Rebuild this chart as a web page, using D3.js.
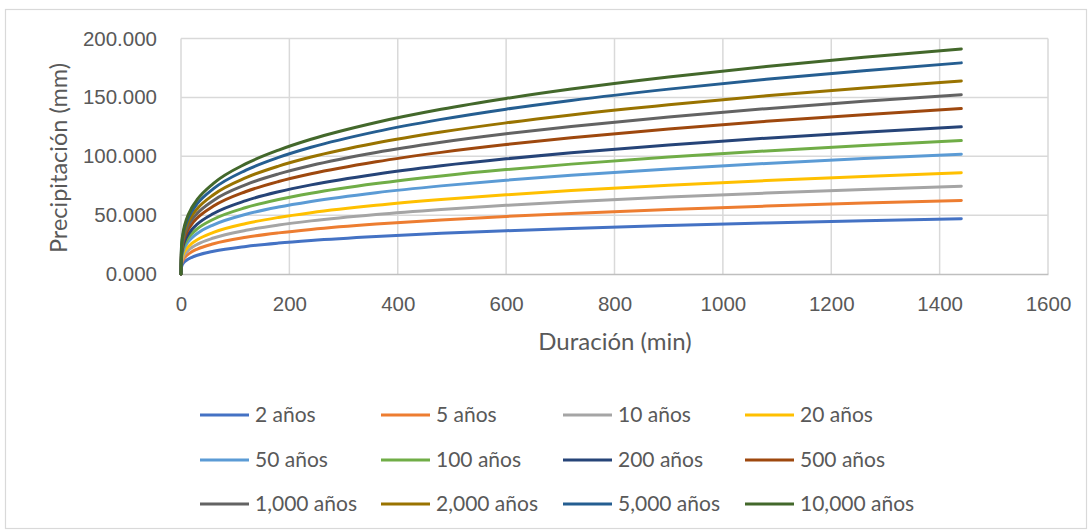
<!DOCTYPE html>
<html>
<head>
<meta charset="utf-8">
<script src="https://cdn.jsdelivr.net/npm/d3@7"></script>
<style>
  html, body { margin: 0; padding: 0; background: #fff; }
  svg { display: block; font-family: Lato, "Open Sans", sans-serif; }
</style>
</head>
<body>
<svg id="chart" width="1091" height="532"></svg>
<script>
// Duration (min) at which each depth is given
const durations = [0, 1, 5, 10, 20, 30, 60, 120, 180, 240, 360, 480, 600, 720, 900, 1080, 1260, 1440];

// Precipitation depth (mm) per return period
const p2     = [0, 6.13, 9.63, 11.69, 14.19, 15.90, 19.30, 23.44, 26.26, 28.46, 31.88, 34.55, 36.78, 38.71, 41.20, 43.36, 45.28, 47.00];
const p5     = [0, 8.16, 12.80, 15.54, 18.87, 21.14, 25.67, 31.17, 34.92, 37.84, 42.39, 45.95, 48.91, 51.48, 54.79, 57.66, 60.21, 62.50];
const p10    = [0, 9.72, 15.26, 18.53, 22.49, 25.20, 30.60, 37.15, 41.62, 45.11, 50.53, 54.77, 58.30, 61.36, 65.31, 68.73, 71.77, 74.50];
const p20    = [0, 11.22, 17.61, 21.39, 25.96, 29.09, 35.32, 42.89, 48.05, 52.07, 58.33, 63.23, 67.30, 70.83, 75.40, 79.34, 82.84, 86.00];
const p50    = [0, 13.28, 20.85, 25.32, 30.73, 34.44, 41.81, 50.77, 56.88, 61.64, 69.05, 74.84, 79.67, 83.84, 89.25, 93.92, 98.06, 101.80];
const p100   = [0, 14.79, 23.20, 28.18, 34.21, 38.33, 46.53, 56.50, 63.30, 68.60, 76.85, 83.30, 88.67, 93.31, 99.33, 104.53, 109.14, 113.30];
const p200   = [0, 16.31, 25.60, 31.09, 37.74, 42.29, 51.34, 62.34, 69.84, 75.69, 84.79, 91.90, 97.83, 102.95, 109.59, 115.33, 120.41, 125.00];
const p500   = [0, 18.34, 28.77, 34.94, 42.42, 47.53, 57.70, 70.07, 78.50, 85.07, 95.30, 103.30, 109.96, 115.72, 123.18, 129.63, 135.34, 140.50];
const p1000  = [0, 19.86, 31.17, 37.85, 45.95, 51.49, 62.51, 75.90, 85.03, 92.16, 103.24, 111.90, 119.11, 125.35, 133.43, 140.42, 146.61, 152.20];
const p2000  = [0, 21.40, 33.59, 40.79, 49.51, 55.48, 67.35, 81.79, 91.63, 99.30, 111.24, 120.57, 128.35, 135.07, 143.78, 151.31, 157.98, 164.00];
const p5000  = [0, 22.90, 36.00, 43.80, 53.20, 59.70, 72.50, 88.20, 99.00, 107.60, 120.90, 131.30, 140.00, 147.40, 157.00, 165.30, 172.70, 179.30];
const p10000 = [0, 24.10, 38.00, 46.30, 56.40, 63.30, 77.00, 93.70, 105.20, 114.40, 128.70, 139.90, 149.10, 157.10, 167.40, 176.20, 184.00, 191.10];

const seriesNames = ["2 años", "5 años", "10 años", "20 años", "50 años", "100 años",
                     "200 años", "500 años", "1,000 años", "2,000 años", "5,000 años", "10,000 años"];
const seriesValues = [p2, p5, p10, p20, p50, p100, p200, p500, p1000, p2000, p5000, p10000];
const seriesColors = ["#4472C4", "#ED7D31", "#A5A5A5", "#FFC000", "#5B9BD5", "#70AD47",
                      "#264478", "#9E480E", "#636363", "#997300", "#255E91", "#43682B"];

const xTicks = [0, 200, 400, 600, 800, 1000, 1200, 1400, 1600];
const yTicks = [0, 50, 100, 150, 200];

const svg = d3.select("#chart");
const textColor = "#595959";
const gridColor = "#d9d9d9";

// outer chart frame
svg.append("rect")
  .attr("x", 5.5).attr("y", 9.5).attr("width", 1081).attr("height", 519)
  .attr("fill", "#fff").attr("stroke", gridColor).attr("stroke-width", 1.2);

const plot = { left: 181, right: 1048, top: 38.5, bottom: 274 };

const x = d3.scaleLinear().domain([0, 1600]).range([plot.left, plot.right]);
const y = d3.scaleLinear().domain([0, 200]).range([plot.bottom, plot.top]);

// gridlines
const grid = svg.append("g");
grid.selectAll("line.h").data(yTicks.filter(d => d > 0)).join("line")
  .attr("x1", plot.left).attr("x2", plot.right)
  .attr("y1", d => y(d)).attr("y2", d => y(d))
  .attr("stroke", gridColor).attr("stroke-width", 1.5);
grid.selectAll("line.v").data(xTicks).join("line")
  .attr("y1", plot.top).attr("y2", plot.bottom)
  .attr("x1", d => x(d)).attr("x2", d => x(d))
  .attr("stroke", gridColor).attr("stroke-width", 1.5);

// x axis
const xAxis = svg.append("g")
  .attr("transform", `translate(0,${plot.bottom})`)
  .call(d3.axisBottom(x).tickValues(xTicks).tickSize(0).tickPadding(22).tickFormat(d3.format("d")));
xAxis.select(".domain").attr("stroke", "#bfbfbf").attr("stroke-width", 1.5);
xAxis.selectAll("text").attr("fill", textColor).style("font-size", "20.5px");

// y axis
const yAxis = svg.append("g")
  .attr("transform", `translate(${plot.left},0)`)
  .call(d3.axisLeft(y).tickValues(yTicks).tickSize(0).tickPadding(24).tickFormat(d3.format(".3f")));
yAxis.select(".domain").remove();
yAxis.selectAll("text").attr("fill", textColor).style("font-size", "20.5px");

// axis titles
svg.append("text")
  .attr("x", 615).attr("y", 350)
  .attr("text-anchor", "middle").attr("fill", textColor)
  .style("font-size", "24px").text("Duración (min)");
svg.append("text")
  .attr("transform", `translate(67,158) rotate(-90)`)
  .attr("text-anchor", "middle").attr("fill", textColor)
  .style("font-size", "23.5px").text("Precipitación (mm)");

// series lines
const line = d3.line()
  .x((d, i) => x(durations[i]))
  .y(d => y(d))
  .curve(d3.curveMonotoneX);

svg.append("g").selectAll("path").data(seriesValues).join("path")
  .attr("d", line)
  .attr("fill", "none")
  .attr("stroke", (d, i) => seriesColors[i])
  .attr("stroke-width", 3)
  .attr("stroke-linecap", "round")
  .attr("stroke-linejoin", "round");

// legend: 4 columns x 3 rows
const legendCols = [200, 381, 563, 745];
const legendRows = [415, 460, 504];
const legend = svg.append("g");
const items = legend.selectAll("g").data(seriesNames).join("g")
  .attr("transform", (d, i) => `translate(${legendCols[i % 4]},${legendRows[Math.floor(i / 4)]})`);
items.append("line")
  .attr("x1", 0).attr("x2", 49).attr("y1", 0).attr("y2", 0)
  .attr("stroke", (d, i) => seriesColors[i]).attr("stroke-width", 3);
items.append("text")
  .attr("x", 55).attr("y", 0).attr("dy", "0.35em")
  .attr("fill", textColor).style("font-size", "21px")
  .text(d => d);
</script>
</body>
</html>
